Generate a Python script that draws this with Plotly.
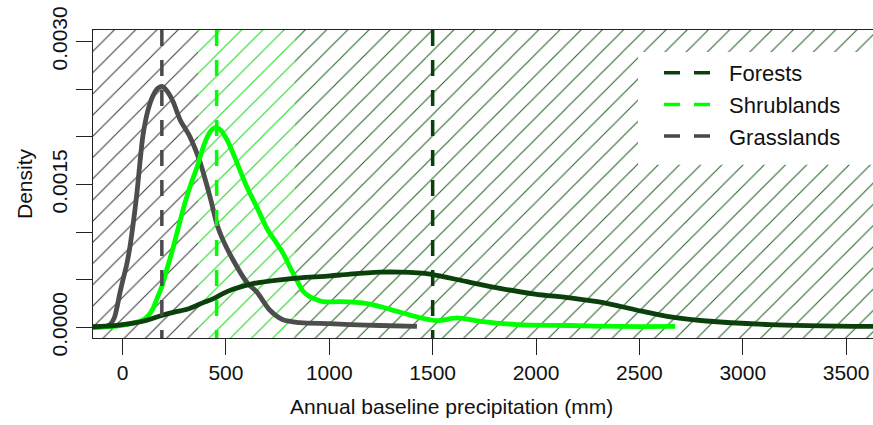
import plotly.graph_objects as go

# ---- axis limits -------------------------------------------------------
x_lim = [-143, 3630]
y_lim = [-0.000111, 0.003121]

# ---- precipitation zones shown as hatched background (mm) ---------------
zone_names = ["Grasslands", "Shrublands", "Forests"]
zone_lo = [-143, 365, 834]
zone_hi = [365, 834, 3630]
zone_hatch = ["#3c3c3c", "#1ed81e", "#256525"]

# ---- median annual precipitation per biome (mm) -------------------------
biomes = ["Forests", "Shrublands", "Grasslands"]
medians = [1500, 455, 190]
biome_colors = ["#0b3f0b", "#00ff00", "#4a4a4a"]

# ---- kernel density estimates ------------------------------------------
grass_x = [-143, -85, -61, -40, -29, -13, 2, 20, 36, 55, 70, 85, 99, 123,
           147, 170, 191, 215, 244, 278, 326, 374, 423, 457, 481, 534, 602,
           650, 713, 776, 858, 1000, 1100, 1245, 1424]
grass_y = [0.0, 0.00001, 0.00003, 0.0001, 0.00019, 0.00036, 0.0005, 0.00066,
           0.00085, 0.00115, 0.00142, 0.00175, 0.00202, 0.00228, 0.00243,
           0.00251, 0.00253, 0.00248, 0.00237, 0.00218, 0.00200, 0.00174,
           0.00137, 0.00108, 0.00094, 0.00071, 0.00047, 0.00037, 0.00018,
           0.00008, 0.00005, 0.00004, 0.00003, 0.00002, 0.00001]

shrub_x = [-143, -37, 60, 100, 123, 145, 166, 190, 217, 240, 263, 302, 330,
           360, 385, 410, 430, 452, 475, 505, 553, 602, 650, 703, 740, 776,
           810, 844, 873, 907, 941, 970, 1052, 1183, 1294, 1424, 1521, 1618,
           1744, 1908, 2165, 2407, 2673]
shrub_y = [0.0, 0.00001, 0.00005, 0.00008, 0.00012, 0.00019, 0.0003,
           0.00043, 0.00063, 0.0008, 0.00099, 0.00131, 0.0015, 0.00168,
           0.00186, 0.002, 0.00207, 0.0021, 0.00207, 0.00197, 0.00173,
           0.00147, 0.00126, 0.00102, 0.0009, 0.00078, 0.00063, 0.00049,
           0.00038, 0.00032, 0.00029, 0.00027, 0.00027, 0.00025, 0.00019,
           0.00011, 0.00007, 0.0001, 0.00006, 0.00003, 0.00002, 0.00001,
           0.00001]

forest_x = [-143, -40, 36, 108, 181, 250, 312, 390, 437, 490, 534, 631, 762,
            858, 1003, 1100, 1245, 1342, 1487, 1666, 1826, 1995, 2165, 2325,
            2490, 2650, 2810, 3130, 3630]
forest_y = [0.000007, 0.00002, 0.00004, 0.00007, 0.00012, 0.00016, 0.00019,
            0.00026, 0.0003, 0.00036, 0.0004, 0.00046, 0.0005, 0.00052,
            0.00054, 0.00056, 0.00058, 0.00058, 0.00056, 0.00048, 0.00041,
            0.00035, 0.00031, 0.00026, 0.00018, 0.00011, 0.00007, 0.00003,
            0.00001]

density_x = {"Forests": forest_x, "Shrublands": shrub_x, "Grasslands": grass_x}
density_y = {"Forests": forest_y, "Shrublands": shrub_y, "Grasslands": grass_y}

y_tick_vals = [0.0, 0.0005, 0.0010, 0.0015, 0.0020, 0.0025, 0.0030]
y_tick_text = ["0.0000", "", "", "0.0015", "", "", "0.0030"]
x_tick_vals = [0, 500, 1000, 1500, 2000, 2500, 3000, 3500]

FONT = "Liberation Sans, Arial, sans-serif"

fig = go.Figure()

# hatched zones
for name, lo, hi, col in zip(zone_names, zone_lo, zone_hi, zone_hatch):
    fig.add_trace(go.Scatter(
        x=[lo, hi, hi, lo, lo],
        y=[y_lim[0], y_lim[0], y_lim[1], y_lim[1], y_lim[0]],
        mode="none", fill="toself", fillcolor="white",
        fillpattern=dict(shape="/", fgcolor=col, bgcolor="white",
                         fgopacity=1, size=15, solidity=0.07),
        hoverinfo="skip", showlegend=False,
    ))

# density curves
for name, col in zip(["Grasslands", "Shrublands", "Forests"],
                     ["#4d4d4d", "#00ff00", "#0b3f0b"]):
    fig.add_trace(go.Scatter(
        x=density_x[name], y=density_y[name], mode="lines",
        line=dict(color=col, width=4.8, shape="spline", smoothing=0.8),
        showlegend=False, hoverinfo="skip",
    ))

# median lines (these carry the legend)
for name, med, col in zip(biomes, medians, biome_colors):
    fig.add_trace(go.Scatter(
        x=[med, med], y=[y_lim[1], y_lim[0]], mode="lines", name=name,
        line=dict(color=col, width=3.5, dash="16px,14px"),
    ))

axis_common = dict(
    showgrid=False, zeroline=False, showline=True, linecolor="#222",
    linewidth=1.3, ticks="outside", ticklen=16, tickwidth=1.3,
    tickcolor="#222", tickfont=dict(family=FONT, size=21, color="#111"),
)

fig.update_layout(
    width=873, height=425,
    margin=dict(l=93, r=0, t=30, b=87),
    paper_bgcolor="white", plot_bgcolor="white",
    font=dict(family=FONT, size=21, color="#111"),
    xaxis=dict(range=x_lim, tickvals=x_tick_vals, mirror=True,
               **axis_common),
    yaxis=dict(range=y_lim, tickvals=y_tick_vals, ticktext=y_tick_text,
               tickangle=-90,
               title=dict(text="Density", font=dict(size=21), standoff=10),
               **axis_common),
    legend=dict(x=(659 - 93) / 780, y=1 - (52 - 30) / 308.3,
                xanchor="left", yanchor="top",
                bgcolor="rgba(0,0,0,0)", font=dict(family=FONT, size=22),
                itemwidth=60),
    annotations=[dict(text="Annual baseline precipitation (mm)",
                      xref="paper", yref="paper",
                      x=(451 - 93) / 780, y=1 - (407 - 30) / 308.3,
                      xanchor="center", yanchor="middle", showarrow=False,
                      font=dict(family=FONT, size=21, color="#111"))],
    shapes=[dict(type="rect", xref="paper", yref="paper",
                 x0=(638 - 93) / 780, x1=1.0,
                 y0=1 - (165 - 30) / 308.3, y1=1 - (52 - 30) / 308.3,
                 fillcolor="white", line=dict(width=0), layer="above")],
)

fig.write_html("out.html")
